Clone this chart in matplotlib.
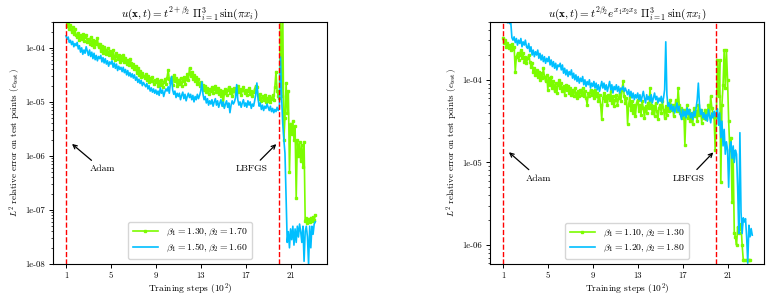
import numpy as np
import matplotlib
matplotlib.use("Agg")
import matplotlib.pyplot as plt
from matplotlib.ticker import FuncFormatter, LogLocator, NullFormatter

plt.rcParams['font.family'] = 'serif'
plt.rcParams['font.serif'] = ['cmr10']
plt.rcParams['mathtext.fontset'] = 'cm'
plt.rcParams['axes.unicode_minus'] = False

# log10 of the test error, one value every 10 steps (0.1 x 10^2)
# Adam part: steps 1.0 .. 20.0, LBFGS part: 20.1 onwards

left_green_adam = [
    -3.45, -3.60, -3.52, -3.66, -3.58, -3.70, -3.62, -3.74, -3.66, -3.76,
    -3.80, -3.72, -3.86, -3.76, -3.84, -3.74, -3.88, -3.80, -3.76, -3.90,
    -3.84, -3.92, -3.80, -3.95, -3.86, -3.98, -3.88, -3.93, -3.82, -3.99,
    -3.92, -4.06, -3.96, -4.10, -3.98, -4.04, -4.12, -4.00, -4.14, -4.06,
    -4.10, -4.18, -4.04, -4.16, -4.22, -4.10, -4.20, -4.14, -4.26, -4.16,
    -4.22, -4.14, -4.26, -4.18, -4.30, -4.22, -4.32, -4.20, -4.28, -4.36,
    -4.30, -4.40, -4.34, -4.46, -4.38, -4.50, -4.42, -4.54, -4.46, -4.52,
    -4.56, -4.48, -4.60, -4.52, -4.64, -4.56, -4.62, -4.54, -4.66, -4.60,
    -4.64, -4.58, -4.70, -4.62, -4.68, -4.60, -4.72, -4.64, -4.58, -4.66,
    -4.55, -4.41, -4.58, -4.64, -4.54, -4.68, -4.50, -4.62, -4.56, -4.70,
    -4.60, -4.66, -4.56, -4.70, -4.62, -4.54, -4.66, -4.58, -4.48, -4.60,
    -4.37, -4.52, -4.44, -4.58, -4.50, -4.62, -4.54, -4.66, -4.58, -4.70,
    -4.64, -4.74, -4.68, -4.78, -4.70, -4.82, -4.74, -4.86, -4.76, -4.80,
    -4.72, -4.84, -4.76, -4.70, -4.82, -4.74, -4.86, -4.78, -4.90, -4.80,
    -5.05, -4.84, -4.76, -4.88, -4.78, -4.72, -4.84, -4.76, -4.90, -4.80,
    -4.74, -4.86, -4.78, -4.70, -4.82, -4.76, -4.88, -4.78, -4.72, -4.84,
    -4.78, -4.88, -4.80, -4.74, -4.86, -4.80, -4.90, -4.82, -4.76, -4.70,
    -4.72, -4.88, -4.94, -4.86, -4.98, -4.90, -4.96, -4.88, -5.00, -4.92,
    -4.98, -4.90, -5.00, -4.94, -4.88, -4.96, -4.72, -4.44, -4.80, -4.90,
    -4.92]
left_green_lbfgs = [
    -3.30, -4.90, -3.30, -5.70, -5.30, -4.65, -5.20, -4.80, -6.30, -5.40,
    -5.60, -5.35, -5.70, -5.45, -6.78, -5.70, -6.00, -5.75, -6.10, -5.80,
    -6.20, -5.75, -7.20, -7.15, -7.24, -7.16, -7.22, -7.14, -7.20, -7.13,
    -7.18, -7.10]

left_blue_adam = [
    -3.78, -3.84, -3.80, -3.90, -3.86, -3.94, -3.88, -3.98, -3.92, -3.96,
    -3.90, -4.02, -3.96, -4.08, -4.00, -4.12, -4.04, -4.10, -3.98, -4.06,
    -4.14, -4.04, -4.16, -4.08, -4.20, -4.10, -4.22, -4.14, -4.24, -4.16,
    -4.20, -4.14, -4.26, -4.18, -4.28, -4.20, -4.30, -4.24, -4.34, -4.26,
    -4.30, -4.24, -4.36, -4.28, -4.38, -4.30, -4.42, -4.34, -4.40, -4.36,
    -4.44, -4.36, -4.46, -4.40, -4.50, -4.42, -4.52, -4.46, -4.54, -4.48,
    -4.56, -4.50, -4.60, -4.54, -4.64, -4.58, -4.66, -4.60, -4.70, -4.64,
    -4.68, -4.72, -4.66, -4.76, -4.70, -4.80, -4.74, -4.82, -4.76, -4.84,
    -4.78, -4.86, -4.80, -4.88, -4.74, -4.84, -4.78, -4.90, -4.82, -4.76,
    -4.80, -4.72, -4.84, -4.66, -4.53, -4.78, -4.86, -4.80, -4.92, -4.84,
    -4.90, -4.84, -4.96, -4.88, -4.82, -4.94, -4.86, -4.98, -4.90, -4.84,
    -4.92, -4.86, -4.96, -4.88, -5.00, -4.90, -4.96, -4.86, -4.94, -4.88,
    -4.80, -4.63, -4.86, -4.96, -4.90, -5.02, -4.94, -5.06, -4.98, -5.04,
    -4.96, -5.08, -5.00, -4.94, -5.06, -4.98, -5.10, -5.02, -4.96, -5.08,
    -5.00, -5.12, -5.04, -4.98, -5.10, -5.02, -5.20, -5.06, -4.98, -5.04,
    -5.00, -4.92, -4.68, -4.96, -5.06, -5.00, -5.10, -5.02, -4.96, -5.08,
    -5.02, -5.10, -4.98, -5.06, -5.00, -5.12, -5.04, -5.08, -4.98, -4.86,
    -4.65, -4.94, -5.08, -5.02, -5.14, -5.06, -5.16, -5.08, -5.12, -5.04,
    -5.10, -5.16, -5.08, -5.18, -5.12, -5.20, -5.14, -5.18, -5.10, -5.16,
    -5.12]
left_blue_lbfgs = [
    -4.17, -4.90, -5.40, -5.70, -5.95, -6.80, -7.60, -7.40, -7.70, -7.35,
    -7.55, -7.30, -7.65, -7.35, -7.60, -7.30, -7.50, -7.26, -7.40, -7.60,
    -7.30, -7.95, -7.40, -7.30, -7.50, -8.00, -7.30, -7.70, -7.30, -7.45,
    -7.26, -7.22]

right_green_adam = [
    -3.49, -3.56, -3.52, -3.60, -3.55, -3.62, -3.58, -3.64, -3.57, -3.63,
    -3.60, -3.90, -3.72, -3.68, -3.76, -3.70, -3.64, -3.74, -3.68, -3.78,
    -3.72, -3.80, -3.74, -3.70, -3.78, -3.84, -3.80, -3.90, -3.86, -3.94,
    -3.88, -3.96, -3.90, -4.00, -3.92, -3.98, -3.86, -3.96, -4.02, -3.94,
    -4.12, -3.98, -4.06, -3.96, -4.10, -4.02, -4.14, -4.04, -4.16, -4.06,
    -4.00, -4.10, -4.04, -4.14, -4.08, -4.18, -4.06, -4.12, -4.08, -4.16,
    -4.10, -4.18, -4.12, -4.20, -4.10, -4.16, -4.22, -4.14, -4.20, -4.12,
    -4.18, -4.10, -4.20, -4.14, -4.22, -4.30, -4.16, -4.20, -4.12, -4.18,
    -4.14, -4.22, -4.12, -4.20, -4.16, -4.26, -4.18, -4.30, -4.48, -4.22,
    -4.16, -4.26, -4.20, -4.30, -4.18, -4.24, -4.14, -4.28, -4.20, -4.32,
    -4.24, -4.18, -4.30, -4.22, -4.16, -4.26, -4.12, -4.02, -4.20, -4.28,
    -4.22, -4.53, -4.30, -4.20, -4.36, -4.26, -4.40, -4.30, -4.44, -4.28,
    -4.24, -4.38, -4.30, -4.42, -4.26, -4.34, -4.46, -4.32, -4.40, -4.28,
    -4.34, -4.10, -4.30, -4.40, -4.32, -4.44, -4.28, -4.38, -4.48, -4.34,
    -4.30, -4.40, -4.26, -4.36, -4.46, -4.32, -4.42, -4.28, -4.38, -4.24,
    -4.36, -4.30, -4.44, -4.34, -4.24, -4.38, -4.10, -4.30, -4.40, -4.34,
    -4.46, -4.36, -4.79, -4.40, -4.30, -4.46, -4.36, -4.50, -4.40, -4.54,
    -4.34, -4.44, -4.38, -4.50, -4.30, -4.42, -4.36, -4.52, -4.40, -4.46,
    -4.36, -4.48, -4.40, -4.30, -4.44, -4.20, -4.34, -4.42, -4.45, -4.85,
    -4.45]
right_green_lbfgs = [
    -3.76, -4.20, -3.76, -5.24, -4.30, -4.06, -3.64, -4.10, -3.64, -4.00,
    -4.50, -4.85, -4.70, -5.48, -4.95, -5.85, -5.90, -6.00, -5.78, -5.85,
    -5.80, -5.75, -6.00, -6.18, -6.18, -6.18, -6.18, -6.18, -6.18, -6.18]

right_blue_adam = [
    -3.10, -3.15, -3.12, -3.20, -3.31, -3.30, -3.32, -3.30, -3.49, -3.52,
    -3.48, -3.55, -3.50, -3.58, -3.52, -3.56, -3.50, -3.60, -3.54, -3.58,
    -3.52, -3.60, -3.62, -3.56, -3.66, -3.60, -3.70, -3.64, -3.72, -3.66,
    -3.70, -3.64, -3.74, -3.68, -3.76, -3.70, -3.78, -3.72, -3.80, -3.74,
    -3.78, -3.72, -3.82, -3.76, -3.84, -3.78, -3.86, -3.80, -3.88, -3.82,
    -3.84, -3.80, -3.88, -3.82, -3.92, -3.86, -3.94, -3.88, -3.96, -3.90,
    -3.94, -3.88, -3.98, -3.92, -4.00, -3.94, -4.02, -3.96, -4.04, -3.98,
    -4.02, -3.96, -4.06, -4.00, -4.08, -4.02, -4.06, -4.00, -4.10, -4.04,
    -4.08, -4.02, -4.10, -4.04, -4.12, -4.06, -4.14, -4.08, -4.02, -4.10,
    -4.04, -4.12, -4.06, -4.14, -4.08, -4.02, -4.12, -4.06, -4.16, -4.08,
    -4.12, -4.06, -4.14, -4.08, -4.16, -4.10, -4.12, -4.08, -4.14, -4.10,
    -4.14, -4.18, -4.12, -4.20, -4.14, -4.22, -4.16, -4.24, -4.18, -4.22,
    -4.16, -4.24, -4.18, -4.26, -4.20, -4.14, -4.22, -4.28, -4.18, -4.24,
    -4.20, -4.26, -4.18, -4.28, -4.22, -4.16, -4.24, -4.20, -4.28, -4.22,
    -4.26, -4.20, -4.28, -4.22, -4.12, -3.54, -4.18, -4.32, -4.28, -4.36,
    -4.30, -4.38, -4.32, -4.40, -4.34, -4.28, -4.38, -4.32, -4.42, -4.48,
    -4.36, -4.44, -4.38, -4.46, -4.34, -4.42, -4.36, -4.46, -4.40, -4.48,
    -4.38, -4.44, -4.34, -4.24, -4.04, -4.30, -4.42, -4.36, -4.46, -4.40,
    -4.48, -4.42, -4.50, -4.36, -4.44, -4.52, -4.40, -4.46, -4.38, -4.44,
    -4.40]
right_blue_lbfgs = [
    -4.35, -4.55, -4.40, -4.70, -4.50, -4.80, -4.60, -4.90, -4.75, -4.85,
    -5.30, -4.80, -4.75, -4.95, -4.80, -5.00, -4.85, -4.90, -5.30, -5.86,
    -4.64, -5.60, -5.86, -5.67, -5.72, -5.68, -5.90, -6.22, -5.76, -5.90,
    -5.80, -5.88]

left_labels = [r'$\beta_1 = 1.30, \beta_2 = 1.70$', r'$\beta_1 = 1.50, \beta_2 = 1.60$']
right_labels = [r'$\beta_1 = 1.10, \beta_2 = 1.30$', r'$\beta_1 = 1.20, \beta_2 = 1.80$']
left_title = r'$u(\mathbf{x}, t) = t^{2+\beta_2}\ \Pi_{i=1}^{3}\,\sin(\pi x_i)$'
right_title = r'$u(\mathbf{x}, t) = t^{2\beta_2}e^{x_1x_2x_3}\ \Pi_{i=1}^{3}\,\sin(\pi x_i)$'
xticks = [1, 5, 9, 13, 17, 21]

GREEN = '#7CFC00'
BLUE = '#00BFFF'


def steps(n):
    return np.round(1.0 + 0.1 * np.arange(n), 1)


def draw(ax, green, blue, labels, title, ylim, tip_y, text_y):
    g = 10.0 ** np.array(green)
    b = 10.0 ** np.array(blue)
    ax.plot(steps(len(g)), g, color=GREEN, lw=1.2, marker='s', ms=1.6, label=labels[0])
    ax.plot(steps(len(b)), b, color=BLUE, lw=1.2, label=labels[1])
    ax.set_yscale('log')
    ax.set_ylim(*ylim)
    ax.set_xlim(-0.15, 24.25)
    ax.axvline(1, color='red', ls='--', lw=1)
    ax.axvline(20, color='red', ls='--', lw=1)
    ax.set_xticks(xticks)
    ax.yaxis.set_major_locator(LogLocator(base=10))
    ax.yaxis.set_minor_locator(LogLocator(base=10, subs=np.arange(2, 10)))
    ax.yaxis.set_major_formatter(FuncFormatter(lambda v, p: f'{v:.0e}'))
    ax.yaxis.set_minor_formatter(NullFormatter())
    ax.tick_params(labelsize=6.3, length=3, width=0.7, pad=2.5)
    ax.tick_params(which='minor', length=1.5, width=0.5)
    ax.set_xlabel(r'Training steps ($10^2$)', fontsize=6.8, labelpad=1)
    ax.set_ylabel(r'$L^2$ relative error on test points ($e_{\rm test}$)', fontsize=6.5, labelpad=2)
    ax.set_title(title, fontsize=8, pad=3)
    ax.annotate('Adam', xy=(1.35, tip_y), xytext=(4.2, text_y), fontsize=7,
                ha='center', va='center', arrowprops=dict(arrowstyle='->', color='black', lw=0.9))
    ax.annotate('LBFGS', xy=(19.9, tip_y), xytext=(17.5, text_y), fontsize=7,
                ha='center', va='center', arrowprops=dict(arrowstyle='->', color='black', lw=0.9))
    ax.legend(loc='lower center', fontsize=7, handlelength=2.6, borderpad=0.5,
              labelspacing=0.4, edgecolor='#cccccc')
    for s in ax.spines.values():
        s.set_linewidth(0.8)


fig = plt.figure(figsize=(7.72, 2.98), dpi=100)
ax1 = fig.add_axes([0.0687, 0.114, 0.355, 0.812])
ax2 = fig.add_axes([0.6347, 0.114, 0.355, 0.812])

draw(ax1, left_green_adam + left_green_lbfgs, left_blue_adam + left_blue_lbfgs,
     left_labels, left_title, (1e-8, 3.0e-4), 1.8e-6, 5.7e-7)
draw(ax2, right_green_adam + right_green_lbfgs, right_blue_adam + right_blue_lbfgs,
     right_labels, right_title, (5.9e-7, 5.0e-4), 1.4e-5, 6.4e-6)

fig.savefig('out.png', dpi=100)
